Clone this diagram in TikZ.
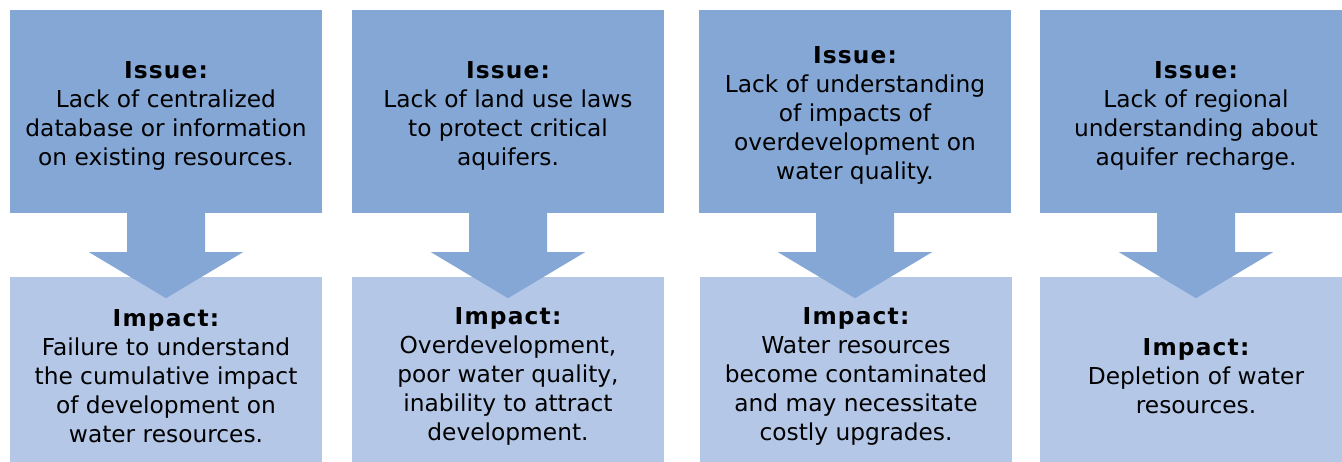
\documentclass[tikz,border=0pt]{standalone}
\usepackage{fontspec}
\setmainfont{DejaVu Sans}
\newfontfamily\hdfont{DejaVu Sans Bold}[LetterSpace=5]
\usetikzlibrary{calc}
\definecolor{topblue}{RGB}{132,167,214}
\definecolor{botblue}{RGB}{180,199,231}
\tikzset{
  issuebox/.style={fill=topblue, draw=none, minimum width=312pt, minimum height=203pt, inner sep=0pt},
  impactbox/.style={fill=botblue, draw=none, minimum width=312pt, minimum height=196pt, inner sep=0pt},
  boxtext/.style={align=center, inner sep=0pt, font=\fontsize{23.3}{29}\selectfont},
  blockarrow/.style={fill=topblue, draw=none}
}
\newcommand{\hd}[1]{{\hdfont #1}}
\begin{document}
\begin{tikzpicture}[x=1pt,y=-1pt]
\useasboundingbox (0,0) rectangle (1342,462);
% issue boxes
\node[issuebox] (i1) at (166,111.5) {};
\node[issuebox] (i2) at (508,111.5) {};
\node[issuebox] (i3) at (855,111.5) {};
\node[issuebox] (i4) at (1196,111.5) {};
\node[boxtext] (ti1) at ($(i1.center)+(0,4)$) {\hd{Issue:}\\Lack of centralized\\database or information\\on existing resources.};
\node[boxtext] (ti2) at ($(i2.center)+(0,4)$) {\hd{Issue:}\\Lack of land use laws\\to protect critical\\aquifers.};
\node[boxtext] (ti3) at ($(i3.center)+(0,4)$) {\hd{Issue:}\\Lack of understanding\\of impacts of\\overdevelopment on\\water quality.};
\node[boxtext] (ti4) at ($(i4.center)+(0,4)$) {\hd{Issue:}\\Lack of regional\\understanding about\\aquifer recharge.};
% impact boxes
\node[impactbox] (m1) at (166,375) {};
\node[impactbox] (m2) at (508,375) {};
\node[impactbox] (m3) at (856,375) {};
\node[impactbox] (m4) at (1196,375) {};
\node[boxtext] (tm1) at ($(m1.center)+(0,1)$) {\hd{Impact:}\\Failure to understand\\the cumulative impact\\of development on\\water resources.};
\node[boxtext] (tm2) at ($(m2.center)+(0,1)$) {\hd{Impact:}\\Overdevelopment,\\poor water quality,\\inability to attract\\development.};
\node[boxtext] (tm3) at ($(m3.center)+(0,1)$) {\hd{Impact:}\\Water resources\\become contaminated\\and may necessitate\\costly upgrades.};
\node[boxtext] (tm4) at ($(m4.center)+(0,1)$) {\hd{Impact:}\\Depletion of water\\resources.};
% block arrows
\foreach \n in {1,2,3,4}{
  \fill[blockarrow] ($(i\n.south)+(-39,0)$) -- ($(i\n.south)+(39,0)$) -- ($(i\n.south)+(39,39)$)
    -- ($(i\n.south)+(77,39)$) -- ($(i\n.south)+(0,85)$) -- ($(i\n.south)+(-77,39)$)
    -- ($(i\n.south)+(-39,39)$) -- cycle;
}
\end{tikzpicture}
\end{document}
